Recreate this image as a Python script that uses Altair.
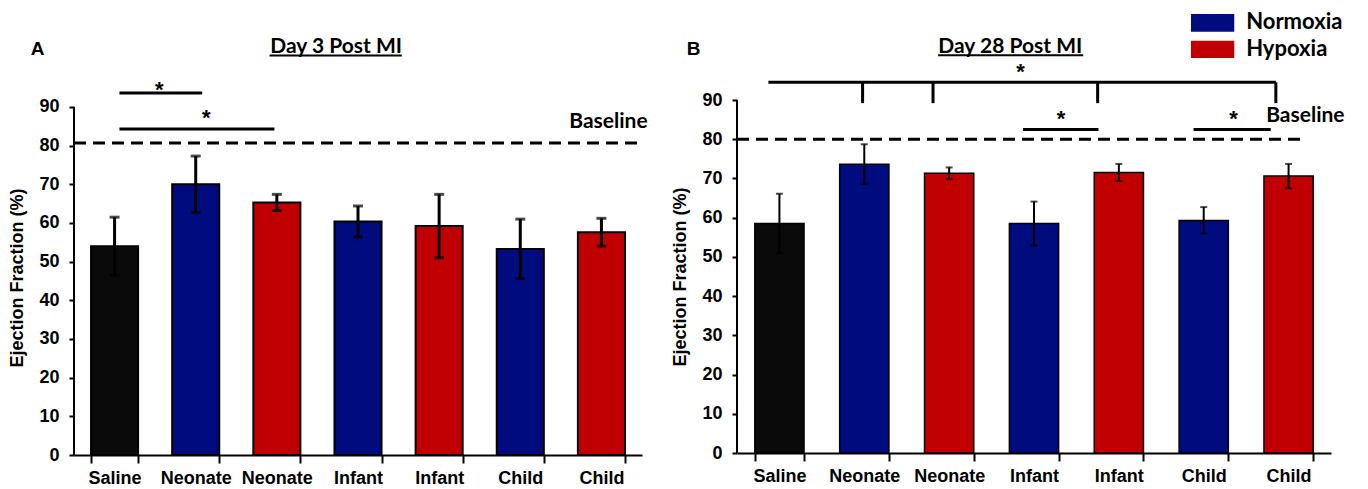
import altair as alt
import pandas as pd

# ---------------- data ----------------
categories = ["Saline", "Neonate N", "Neonate H", "Infant N", "Infant H", "Child N", "Child H"]
category_labels = ["Saline", "Neonate", "Neonate", "Infant", "Infant", "Child", "Child"]
groups = ["Saline", "Normoxia", "Hypoxia", "Normoxia", "Hypoxia", "Normoxia", "Hypoxia"]

day3_mean = [54.0, 70.0, 65.3, 60.4, 59.2, 53.3, 57.6]
day3_sem = [7.5, 7.3, 2.1, 4.0, 8.2, 7.7, 3.6]
day28_mean = [58.5, 73.6, 71.3, 58.5, 71.5, 59.3, 70.6]
day28_sem = [7.6, 5.1, 1.5, 5.6, 2.2, 3.4, 3.1]

day3_baseline = 80.7
day28_baseline = 80.0

group_names = ["Saline", "Normoxia", "Hypoxia"]
group_colors = ["#0a0a0a", "#000b7e", "#c00000"]
legend_entries = ["Normoxia", "Hypoxia"]

# annotation positions: x in category units (0..7 across the axis), y in EF %
day3_sig_lines = [(0.56, 1.58, 93.6), (0.56, 2.47, 84.3)]
day3_stars = [(1.05, 94.9), (1.63, 87.7)]
day28_sig_lines = [(0.37, 6.35, 94.5), (3.37, 4.26, 82.5), (5.38, 6.29, 82.5)]
day28_drops = [1.48, 2.31, 4.25, 6.35]
day28_drop_y = (94.5, 89.2)
day28_stars = [(3.34, 97.6), (3.82, 85.6), (5.85, 85.6)]
# legend box placement (panel B, same units)
legend_sw_x = (5.35, 5.86)
legend_sw_y = [(111.9, 107.4), (105.1, 100.7)]
legend_txt_x = 6.0
legend_txt_y = [110.0, 102.9]

FONT = "Liberation Sans"
TFONT = "Lato"

cscale = alt.Scale(domain=group_names, range=group_colors)

xaxis = alt.Axis(
    title=None, labelExpr="split(datum.label, ' ')[0]", labelAngle=0, tickBand="extent",
    domainWidth=2, domainColor="black", tickColor="black", tickWidth=2, tickSize=8,
    labelFont=FONT, labelFontSize=18, labelFontWeight="bold", labelColor="black", labelPadding=6,
)
yaxis = alt.Axis(
    values=list(range(0, 91, 10)), title="Ejection Fraction (%)", grid=False, domain=False,
    tickColor="black", tickWidth=2, tickSize=5,
    labelFont=FONT, labelFontSize=18, labelFontWeight="bold", labelColor="black", labelPadding=10,
    titleFont=FONT, titleFontSize=18, titleFontWeight="bold", titleColor="black", titlePadding=12,
)


def panel(means, sems, baseline, base_end, base_lbl, sig_lines, drops, drop_y, stars,
          title_text, title_pos, underline, letter, letter_pos, width, height, ymax,
          bar_sw, err_sw, cap_size, with_legend):
    df = pd.DataFrame({"cat": categories, "label": category_labels, "group": groups,
                       "mean": means, "sem": sems})
    xband = alt.X("cat:N", sort=categories,
                  scale=alt.Scale(domain=categories, paddingInner=0.42, paddingOuter=0.21),
                  axis=xaxis)
    yscale = alt.Scale(domain=[0, ymax], nice=False)

    def yy(f):
        return alt.Y(f, scale=yscale, axis=yaxis)

    base = alt.Chart(df)
    bars = base.mark_bar(stroke="black", strokeWidth=bar_sw).encode(
        x=xband, y=yy("mean:Q"),
        color=alt.Color("group:N", scale=cscale, legend=None),
    )
    err = base.transform_calculate(lo="datum.mean - datum.sem", hi="datum.mean + datum.sem")
    rule = err.mark_rule(color="black", strokeWidth=err_sw).encode(
        x=xband, y=yy("lo:Q"), y2="hi:Q")
    cap_hi = err.mark_tick(color="black", size=cap_size, thickness=err_sw).encode(
        x=xband, y=yy("hi:Q"))
    cap_lo = err.mark_tick(color="black", size=cap_size, thickness=err_sw).encode(
        x=xband, y=yy("lo:Q"))
    band_layer = alt.layer(bars, rule, cap_hi, cap_lo)

    xq = alt.Scale(domain=[0, 7], nice=False, zero=False)

    def qx(f):
        return alt.X(f, scale=xq, axis=None)

    # y axis line, drawn from 0 to 90 only
    ax_df = pd.DataFrame({"x": [0.0], "y": [0.0], "y2": [90.0]})
    axline = alt.Chart(ax_df).mark_rule(color="black", strokeWidth=2).encode(
        x=qx("x:Q"), y=yy("y:Q"), y2="y2:Q")

    base_df = pd.DataFrame({"x": [0.0], "x2": [base_end], "y": [baseline]})
    dash = alt.Chart(base_df).mark_rule(color="black", strokeWidth=3, strokeDash=[12, 7]).encode(
        x=qx("x:Q"), x2="x2:Q", y=yy("y:Q"))
    lbl_df = pd.DataFrame({"x": [base_lbl[0]], "y": [base_lbl[1]], "t": ["Baseline"]})
    blabel = alt.Chart(lbl_df).mark_text(font=TFONT, fontSize=21, fontWeight="bold", align="right",
                                         baseline="middle", color="black").encode(
        x=qx("x:Q"), y=yy("y:Q"), text="t:N")

    sl_df = pd.DataFrame(sig_lines, columns=["x", "x2", "y"])
    slines = alt.Chart(sl_df).mark_rule(color="black", strokeWidth=3).encode(
        x=qx("x:Q"), x2="x2:Q", y=yy("y:Q"))
    st_df = pd.DataFrame(stars, columns=["x", "y"])
    st_df["t"] = "*"
    stxt = alt.Chart(st_df).mark_text(font=FONT, fontSize=22, fontWeight="bold", align="center",
                                      baseline="middle", dy=2, color="black").encode(
        x=qx("x:Q"), y=yy("y:Q"), text="t:N")

    t_df = pd.DataFrame({"x": [title_pos[0]], "y": [title_pos[1]], "t": [title_text]})
    ttl = alt.Chart(t_df).mark_text(font=TFONT, fontSize=21, fontWeight="bold", align="center",
                                    baseline="alphabetic", color="black").encode(
        x=qx("x:Q"), y=yy("y:Q"), text="t:N")
    ul_df = pd.DataFrame({"x": [underline[0]], "x2": [underline[1]], "y": [underline[2]]})
    ul = alt.Chart(ul_df).mark_rule(color="black", strokeWidth=2).encode(
        x=qx("x:Q"), x2="x2:Q", y=yy("y:Q"))
    l_df = pd.DataFrame({"x": [letter_pos[0]], "y": [letter_pos[1]], "t": [letter]})
    let = alt.Chart(l_df).mark_text(font=FONT, fontSize=19, fontWeight="bold", align="center",
                                    baseline="alphabetic", color="black").encode(
        x=qx("x:Q"), y=yy("y:Q"), text="t:N")

    layers = [axline, dash, blabel, slines, stxt, ttl, ul, let]
    if drops:
        d_df = pd.DataFrame({"x": drops, "y": [drop_y[0]] * len(drops), "y2": [drop_y[1]] * len(drops)})
        dr = alt.Chart(d_df).mark_rule(color="black", strokeWidth=3).encode(
            x=qx("x:Q"), y=yy("y:Q"), y2="y2:Q")
        layers.append(dr)
    if with_legend:
        lg_df = pd.DataFrame({
            "group": legend_entries,
            "x": [legend_sw_x[0]] * 2, "x2": [legend_sw_x[1]] * 2,
            "y": [r[0] for r in legend_sw_y], "y2": [r[1] for r in legend_sw_y],
            "tx": [legend_txt_x] * 2, "ty": legend_txt_y,
        })
        sw = alt.Chart(lg_df).mark_rect().encode(
            x=qx("x:Q"), x2="x2:Q", y=yy("y:Q"), y2="y2:Q",
            color=alt.Color("group:N", scale=cscale, legend=None))
        lt = alt.Chart(lg_df).mark_text(font=TFONT, fontSize=22, fontWeight="bold", align="left",
                                        baseline="middle", color="black").encode(
            x=qx("tx:Q"), y=yy("ty:Q"), text="group:N")
        layers += [sw, lt]
    annot = alt.layer(*layers)
    return alt.layer(band_layer, annot).resolve_scale(x="independent").properties(
        width=width, height=height)


A = panel(day3_mean, day3_sem, day3_baseline, 7.0, (7.07, 86.2), day3_sig_lines, [], None,
          day3_stars, "Day 3 Post MI", (3.23, 103.9), (2.41, 4.04, 103.3), "A", (-0.45, 103.4),
          568, 355, 91.8, 2, 3, 10, False)
B = panel(day28_mean, day28_sem, day28_baseline, 6.67, (7.16, 85.9), day28_sig_lines, day28_drops,
          day28_drop_y, day28_stars, "Day 28 Post MI", (3.22, 102.0), (2.37, 4.08, 101.4), "B",
          (-0.51, 101.5), 594, 353, 90.0, 1.5, 2, 7, True)

chart = alt.hconcat(A, B, spacing=23).configure_view(stroke=None).properties(
    background="white", padding={"left": 8, "top": 10, "right": 4, "bottom": 4})

chart.save("out.html", embed_options={"renderer": "svg", "actions": False})
